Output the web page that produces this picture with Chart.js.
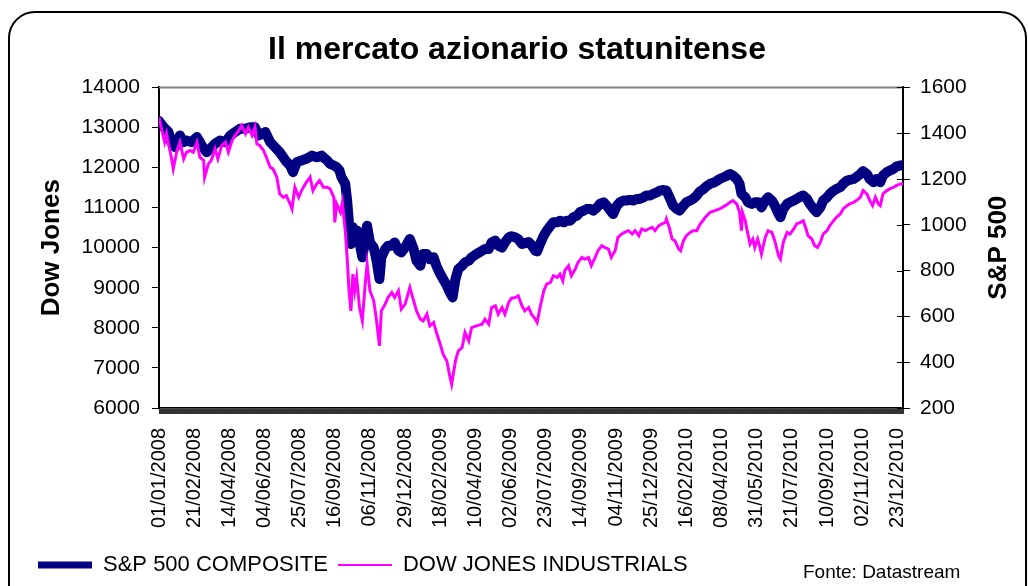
<!DOCTYPE html>
<html>
<head>
<meta charset="utf-8">
<script src="https://cdn.jsdelivr.net/npm/chart.js@4.4.1/dist/chart.umd.min.js"></script>
<style>
  html, body { margin: 0; padding: 0; background: #fff; overflow: hidden; }
  #frame { position: absolute; left: 8px; top: 11px; width: 1019px; height: 620px; box-sizing: border-box;
           border: 2px solid #000; border-radius: 27px; }
  #chart { position: absolute; left: 0; top: 0; }
  #source { position: absolute; left: 803px; top: 561px; font: 19px "Liberation Sans", Arial, sans-serif; line-height: 22px; color: #000; }
</style>
</head>
<body>
<div id="frame"></div>
<canvas id="chart" width="1028" height="600"></canvas>
<div id="source">Fonte: Datastream</div>
<script>
// x = business day counted from 01/01/2008
const dateLabels = ['01/01/2008', '21/02/2008', '14/04/2008', '04/06/2008', '25/07/2008', '16/09/2008',
  '06/11/2008', '29/12/2008', '18/02/2009', '10/04/2009', '02/06/2009', '23/07/2009', '14/09/2009',
  '04/11/2009', '25/12/2009', '16/02/2010', '08/04/2010', '31/05/2010', '21/07/2010', '10/09/2010',
  '02/11/2010', '23/12/2010'];
const labelStep = 37;
const lastDay = 783;

const seriesNames = ['S&P 500 COMPOSITE', 'DOW JONES INDUSTRIALS'];

// S&P 500 (right axis)
const spPoints = [
  [0,1453],[5,1426],[10,1405],[13,1361],[17,1339],[22,1390],[26,1361],[29,1368],[34,1361],[40,1383],
  [45,1346],[50,1317],[54,1332],[59,1354],[64,1368],[70,1361],[75,1390],[80,1405],[85,1419],[91,1419],
  [96,1426],[101,1426],[105,1390],[108,1397],[112,1405],[117,1361],[122,1339],[127,1317],[133,1281],[138,1259],
  [141,1230],[145,1273],[150,1281],[155,1288],[161,1302],[166,1295],[171,1302],[177,1281],[180,1266],[184,1259],
  [187,1252],[190,1237],[192,1208],[196,1179],[198,1106],[200,1004],[202,916],[204,989],[206,945],[209,974],
  [212,901],[214,858],[217,931],[219,996],[222,923],[226,901],[229,843],[232,763],[234,858],[238,894],
  [241,909],[245,909],[248,923],[252,887],[255,880],[259,901],[261,916],[264,938],[268,894],[271,843],
  [275,821],[278,872],[282,872],[285,850],[289,858],[292,821],[296,785],[299,763],[303,734],[306,705],
  [309,683],[312,763],[315,807],[319,821],[322,836],[326,843],[329,858],[334,872],[340,887],[343,894],
  [347,894],[350,923],[354,931],[357,909],[361,901],[364,923],[368,945],[371,950],[375,945],[378,938],
  [382,916],[385,920],[389,925],[392,912],[396,887],[398,884],[401,916],[405,953],[408,974],[412,996],
  [415,1011],[419,1011],[422,1018],[426,1011],[429,1018],[433,1018],[436,1033],[440,1040],[443,1055],[447,1062],
  [450,1069],[454,1069],[457,1062],[461,1076],[464,1091],[468,1098],[471,1084],[475,1062],[478,1047],[482,1084],
  [485,1098],[489,1106],[492,1106],[496,1109],[499,1106],[503,1113],[506,1113],[510,1120],[513,1128],[517,1128],
  [520,1135],[524,1142],[527,1149],[531,1152],[534,1149],[538,1113],[541,1084],[545,1069],[548,1062],[552,1084],
  [555,1098],[559,1106],[562,1113],[566,1128],[569,1145],[573,1156],[576,1168],[580,1179],[585,1186],[590,1200],
  [596,1211],[601,1222],[604,1215],[608,1200],[611,1179],[613,1135],[617,1120],[620,1098],[624,1091],[627,1098],
  [631,1098],[634,1076],[638,1106],[641,1120],[645,1106],[648,1084],[652,1047],[654,1033],[657,1069],[661,1091],
  [664,1098],[668,1106],[671,1113],[675,1123],[678,1128],[682,1113],[685,1091],[689,1069],[692,1055],[696,1076],
  [699,1106],[703,1120],[706,1135],[710,1149],[713,1157],[717,1164],[720,1179],[724,1193],[727,1196],[731,1200],
  [734,1208],[738,1222],[741,1234],[745,1222],[748,1200],[752,1186],[755,1200],[759,1186],[762,1215],[766,1230],
  [769,1237],[773,1244],[776,1254],[780,1259],[783,1260]
];

// Dow Jones Industrials (left axis)
const djPoints = [
  [0,13258],[3,12925],[6,12633],[8,12842],[10,12592],[13,12258],[15,11967],[19,12425],[22,12633],[26,12217],
  [29,12383],[33,12425],[36,12383],[40,12633],[43,12258],[47,12175],[48,11758],[52,12092],[55,12175],[59,12467],
  [62,12217],[66,12550],[70,12633],[73,12383],[77,12675],[80,12800],[84,12925],[87,13050],[91,12842],[94,13008],
  [98,12800],[101,13008],[103,12592],[106,12550],[110,12425],[113,12258],[117,12008],[120,11967],[124,11758],[127,11342],
  [131,11258],[134,11300],[138,11092],[140,10967],[143,11508],[147,11258],[150,11425],[154,11592],[159,11758],[162,11425],
  [166,11592],[169,11675],[173,11508],[177,11508],[180,11467],[184,11258],[185,10633],[187,11092],[191,10883],[193,11133],
  [196,10425],[198,9758],[200,8925],[202,8425],[204,9342],[206,8925],[208,9258],[211,8508],[214,8175],[217,9092],
  [219,9592],[222,8925],[226,8675],[229,8175],[232,7550],[234,8425],[238,8592],[241,8758],[245,8883],[248,8758],
  [252,8925],[255,8467],[259,8592],[261,8758],[264,9008],[268,8675],[271,8425],[275,8217],[278,8175],[282,8342],
  [285,8050],[289,8133],[292,7883],[296,7592],[299,7342],[303,7175],[306,6800],[308,6592],[312,7175],[315,7425],
  [319,7508],[322,7883],[326,7675],[329,8008],[334,8050],[340,8092],[343,8217],[347,8092],[350,8508],[354,8550],
  [357,8342],[361,8508],[364,8342],[368,8633],[371,8740],[375,8758],[378,8800],[382,8550],[385,8425],[389,8508],
  [392,8342],[396,8217],[398,8133],[401,8508],[405,8925],[408,9092],[412,9133],[415,9300],[419,9258],[422,9342],
  [425,9175],[427,9425],[431,9550],[434,9300],[438,9467],[441,9633],[445,9758],[448,9717],[452,9758],[455,9550],
  [459,9758],[462,9925],[466,10050],[469,10008],[473,9967],[476,9758],[480,9925],[483,10258],[487,10342],[490,10383],
  [494,10425],[498,10342],[501,10425],[505,10300],[508,10467],[512,10425],[515,10467],[519,10508],[522,10425],[526,10550],
  [529,10592],[533,10633],[534,10717],[537,10508],[540,10217],[543,10175],[547,9967],[549,9925],[552,10175],[555,10300],
  [559,10383],[562,10425],[566,10425],[569,10570],[575,10758],[580,10883],[585,10925],[590,10967],[596,11050],[601,11133],
  [604,11175],[608,11092],[611,10883],[613,10425],[614,10883],[617,10675],[619,10425],[622,10092],[625,10217],[627,10008],
  [630,10217],[632,10050],[634,9842],[638,10258],[641,10425],[645,10383],[648,10175],[652,9800],[654,9717],[657,10133],
  [661,10383],[664,10342],[668,10467],[671,10592],[675,10633],[678,10675],[681,10467],[683,10300],[687,10217],[690,10050],
  [693,10008],[696,10133],[699,10342],[703,10425],[706,10550],[710,10675],[713,10758],[717,10842],[720,10967],[724,11050],
  [727,11092],[731,11133],[734,11175],[738,11258],[741,11425],[745,11342],[748,11175],[751,11050],[754,11258],[757,11092],
  [759,11050],[762,11342],[766,11425],[769,11467],[773,11508],[776,11550],[780,11592],[783,11590]
];

const font = '"Liberation Sans", Arial, sans-serif';
Chart.defaults.font.family = font;
Chart.defaults.color = '#000';

// axis titles, top grey border and inner half of the right ticks
const overlay = {
  id: 'overlay',
  afterDraw(chart) {
    const { ctx, chartArea, scales } = chart;
    ctx.save();
    ctx.strokeStyle = '#808080';
    ctx.lineWidth = 2;
    ctx.beginPath();
    ctx.moveTo(chartArea.left, chartArea.top);
    ctx.lineTo(chartArea.right, chartArea.top);
    ctx.stroke();

    ctx.strokeStyle = '#000';
    ctx.lineWidth = 1;
    scales.y1.ticks.forEach((t, i) => {
      const py = Math.round(scales.y1.getPixelForTick(i)) + 0.5;
      ctx.beginPath();
      ctx.moveTo(chartArea.right - 6, py);
      ctx.lineTo(chartArea.right, py);
      ctx.stroke();
    });

    ctx.fillStyle = '#000';
    ctx.font = 'bold 26px ' + font;
    ctx.textAlign = 'center';
    ctx.textBaseline = 'middle';
    const midY = (chartArea.top + chartArea.bottom) / 2;
    [[52, 'Dow Jones'], [999, 'S&P 500']].forEach(([x, text]) => {
      ctx.save();
      ctx.translate(x, midY);
      ctx.rotate(-Math.PI / 2);
      ctx.fillText(text, 0, 0);
      ctx.restore();
    });
    ctx.restore();
  }
};

const toXY = (pts) => pts.map(p => ({ x: p[0], y: p[1] }));

new Chart(document.getElementById('chart'), {
  type: 'line',
  data: {
    datasets: [
      {
        label: seriesNames[0],
        data: toXY(spPoints),
        yAxisID: 'y1',
        borderColor: '#000080',
        backgroundColor: '#000080',
        borderWidth: 10,
        borderJoinStyle: 'round',
        borderCapStyle: 'round',
        pointRadius: 0,
        order: 1,
      },
      {
        label: seriesNames[1],
        data: toXY(djPoints),
        yAxisID: 'y',
        borderColor: '#ff00ff',
        backgroundColor: '#ff00ff',
        borderWidth: 3,
        pointRadius: 0,
        order: 0,
      },
    ],
  },
  options: {
    responsive: false,
    animation: false,
    layout: { padding: { left: 28, right: 22, top: 12, bottom: 14 } },
    plugins: {
      title: {
        display: true,
        text: 'Il mercato azionario statunitense',
        color: '#000',
        font: { size: 32, weight: 'bold' },
        padding: { top: 19, bottom: 18 },
      },
      legend: {
        position: 'bottom',
        align: 'start',
        labels: {
          color: '#000',
          font: { size: 22 },
          usePointStyle: true,
          pointStyle: 'line',
          pointStyleWidth: 54,
          padding: 10,
          sort: (a, b) => a.datasetIndex - b.datasetIndex,
          generateLabels(chart) {
            const items = Chart.defaults.plugins.legend.labels.generateLabels(chart);
            items.forEach(it => { it.lineWidth = it.datasetIndex === 0 ? 7 : 2; });
            return items;
          },
        },
      },
      tooltip: { enabled: false },
    },
    scales: {
      x: {
        type: 'linear',
        min: 0,
        max: lastDay,
        afterFit: (scale) => { scale.height = 136; },
        border: { color: '#000', width: 1.5 },
        grid: { drawOnChartArea: false, tickLength: 6, color: '#333' },
        ticks: {
          stepSize: 1,
          autoSkip: false,
          minRotation: 90,
          maxRotation: 90,
          padding: 14,
          font: { size: 20 },
          callback: (v) => (v % labelStep === 0 && dateLabels[v / labelStep]) ? dateLabels[v / labelStep] : '',
        },
      },
      y: {
        position: 'left',
        min: 6000,
        max: 14000,
        afterFit: (scale) => { scale.width = 131; },
        border: { color: '#000', width: 2 },
        grid: { drawOnChartArea: false, tickLength: 7, color: '#000' },
        ticks: { stepSize: 1000, padding: 12, font: { size: 21 }, callback: (v) => String(v) },
      },
      y1: {
        position: 'right',
        min: 200,
        max: 1600,
        afterFit: (scale) => { scale.width = 103; },
        border: { color: '#000', width: 2 },
        grid: { drawOnChartArea: false, tickLength: 7, color: '#000' },
        ticks: { stepSize: 200, padding: 10, font: { size: 21 }, callback: (v) => String(v) },
      },
    },
  },
  plugins: [overlay],
});
</script>
</body>
</html>
